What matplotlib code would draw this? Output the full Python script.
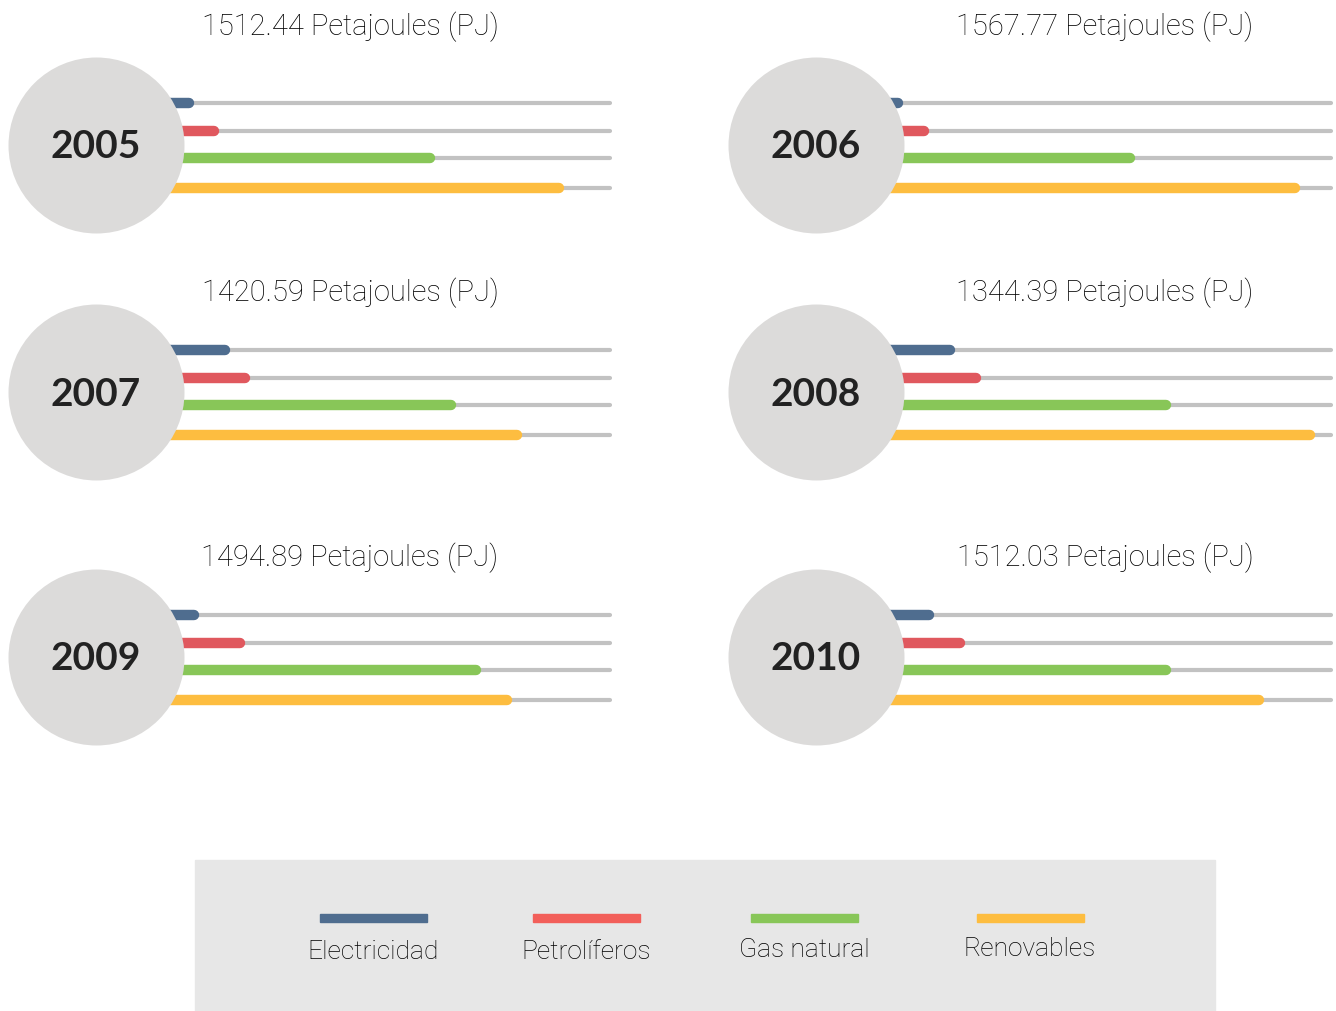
import matplotlib
matplotlib.use("Agg")
import matplotlib.pyplot as plt
from matplotlib.patches import Rectangle

# data: share of the track filled by each sector (0-100)
years = ["2005", "2006", "2007", "2008", "2009", "2010"]
totals = ["1512.44", "1567.77", "1420.59", "1344.39", "1494.89", "1512.03"]
sectors = ["Electricidad", "Petrolíferos", "Gas natural", "Renovables"]
electricidad = [18, 16, 25, 26, 19, 22]
petroliferos = [23, 21, 29, 31, 28, 28]
gas_natural = [65, 61, 69, 68, 74, 68]
renovables = [90, 93, 82, 96, 80, 86]

colors = ["#4f6d8f", "#e0585e", "#88c658", "#fdbd40"]
legend_colors = ["#4f6d8f", "#f25f5a", "#88c658", "#fdbd40"]
track_color = "#c2c2c2"
circle_color = "#dcdbda"
text_color = "#222222"

W, H = 1336, 1011
fig = plt.figure(figsize=(W / 100, H / 100), dpi=100)
fig.set_facecolor("white")

# panel layout in pixels: circle centre and track end
centres = [(96, 145), (816, 145), (96, 392), (816, 392), (96, 657), (816, 657)]
track_end = [610, 1331, 610, 1331, 610, 1331]
title_x = [350, 1105, 350, 1105, 350, 1105]
title_y = [27, 27, 293, 293, 558, 558]
row_offsets = [-42, -14, 12.5, 43]

for i, year in enumerate(years):
    cx, cy = centres[i]
    ax = fig.add_axes([cx / W, 1 - (cy + 90) / H, (track_end[i] - cx) / W, 180 / H])
    ax.set_xlim(0, 100)
    ax.set_ylim(90, -90)
    ax.axis("off")
    vals = [electricidad[i], petroliferos[i], gas_natural[i], renovables[i]]
    for j, v in enumerate(vals):
        y = row_offsets[j]
        ax.plot([0, 100], [y, y], color=track_color, lw=3, solid_capstyle="round",
                clip_on=False, zorder=1)
        ax.plot([0, v], [y, y], color=colors[j], lw=7.5, solid_capstyle="round",
                clip_on=False, zorder=2)
    ax.scatter([0], [0], s=(176 * 0.72) ** 2, color=circle_color, zorder=5,
               clip_on=False, linewidths=0)
    ax.text(0, 2, year, ha="center", va="center", fontsize=28, fontweight="bold",
            family="Lato", color=text_color, zorder=6)
    fig.text(title_x[i] / W, 1 - title_y[i] / H, totals[i] + " Petajoules (PJ)",
             ha="center", va="center", fontsize=21, family="Roboto",
             fontweight="light", color="#000000")

# legend box
fig.patches.append(Rectangle((195 / W, 0), (1215 - 195) / W, (1011 - 860) / H,
                             transform=fig.transFigure, color="#e7e7e7", zorder=0))
leg_x = [373, 586, 804, 1030]
leg_y = [952, 952, 950, 949]
for k, name in enumerate(sectors):
    fig.patches.append(Rectangle(((leg_x[k] - 53) / W, 1 - 922 / H), 107 / W, 8 / H,
                                 transform=fig.transFigure, color=legend_colors[k],
                                 zorder=1))
    fig.text(leg_x[k] / W, 1 - leg_y[k] / H, name, ha="center", va="center",
             fontsize=19, family="Roboto", fontweight="light", color="#000000",
             zorder=2)

fig.savefig("out.png", dpi=100, facecolor="white")
